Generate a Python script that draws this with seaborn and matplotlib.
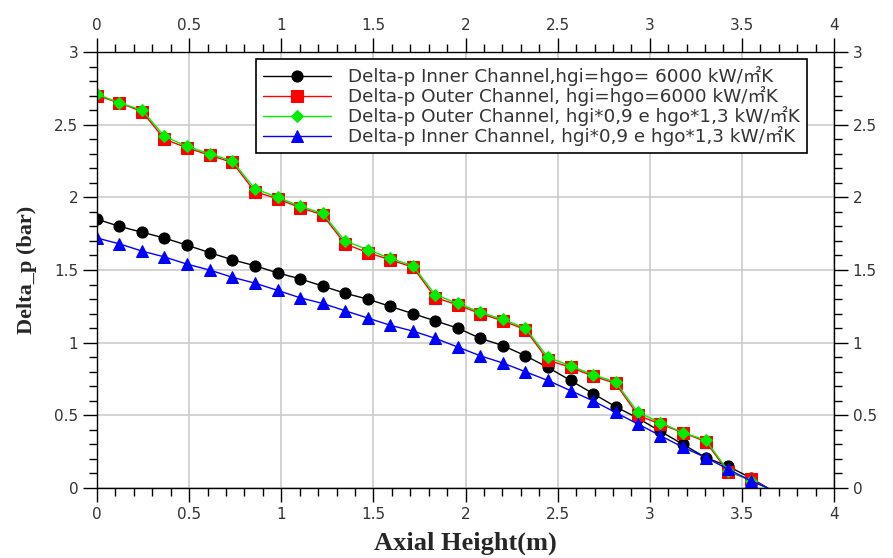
import numpy as np
import pandas as pd
import matplotlib
matplotlib.use("Agg")
import matplotlib.pyplot as plt
from matplotlib.ticker import MultipleLocator
from matplotlib.font_manager import FontProperties
import seaborn as sns

# ---- data ----
x = [0.0, 0.122, 0.245, 0.366, 0.49, 0.611, 0.735, 0.856, 0.98, 1.1, 1.224, 1.346,
     1.469, 1.591, 1.714, 1.836, 1.958, 2.08, 2.203, 2.325, 2.447, 2.57, 2.692,
     2.814, 2.936, 3.058, 3.181, 3.303, 3.425, 3.547, 3.64]

inner_base = [1.85, 1.80, 1.76, 1.72, 1.67, 1.62, 1.57, 1.53, 1.48, 1.44, 1.39, 1.34,
              1.30, 1.25, 1.20, 1.15, 1.10, 1.03, 0.98, 0.91, 0.83, 0.74, 0.65,
              0.56, 0.48, 0.39, 0.30, 0.21, 0.15, 0.07, 0.0]
outer_base = [2.70, 2.65, 2.59, 2.40, 2.34, 2.29, 2.24, 2.04, 1.99, 1.93, 1.88, 1.68,
              1.62, 1.57, 1.52, 1.31, 1.26, 1.20, 1.15, 1.09, 0.88, 0.83, 0.77,
              0.72, 0.50, 0.44, 0.38, 0.32, 0.11, 0.06, 0.0]
outer_mod = [2.71, 2.65, 2.60, 2.42, 2.35, 2.30, 2.25, 2.06, 2.00, 1.94, 1.89, 1.70,
             1.64, 1.58, 1.53, 1.33, 1.27, 1.21, 1.16, 1.10, 0.90, 0.84, 0.78,
             0.73, 0.52, 0.45, 0.38, 0.33, 0.12, 0.05, 0.0]
inner_mod = [1.72, 1.68, 1.63, 1.59, 1.54, 1.50, 1.45, 1.41, 1.36, 1.31, 1.27, 1.22,
             1.17, 1.12, 1.08, 1.03, 0.97, 0.91, 0.86, 0.80, 0.74, 0.67, 0.60,
             0.52, 0.44, 0.36, 0.28, 0.21, 0.13, 0.05, 0.0]

labels = [
    "Delta-p Inner Channel,hgi=hgo= 6000 kW/\u33a1K",
    "Delta-p Outer Channel, hgi=hgo=6000 kW/\u33a1K",
    "Delta-p Outer Channel, hgi*0,9 e hgo*1,3 kW/\u33a1K",
    "Delta-p Inner Channel, hgi*0,9 e hgo*1,3 kW/\u33a1K",
]
series = [inner_base, outer_base, outer_mod, inner_mod]
colors = ["#000000", "#ff0000", "#00ee00", "#0000ff"]
markers = ["o", "s", "D", "^"]
msizes = [8, 8, 6.5, 8]

sns.set_theme(style="white")
plt.rcParams['font.family'] = ['DejaVu Sans', 'Noto Sans CJK SC']

fig = plt.figure(figsize=(8.93, 5.58), dpi=100)
ax = fig.add_axes([0.1086, 0.1254, 0.8254, 0.7814])

for y, lab, c, m, ms in zip(series, labels, colors, markers, msizes):
    df = pd.DataFrame({"x": x, "y": y})
    sns.lineplot(data=df, x="x", y="y", ax=ax, color=c, marker=m, markersize=ms,
                 markeredgecolor=c, markerfacecolor=c, linewidth=1.0, label=lab,
                 markevery=list(range(len(x) - 1)), estimator=None, sort=False)

ax.set_xlim(0, 4)
ax.set_ylim(0, 3)
ax.xaxis.set_major_locator(MultipleLocator(0.5))
ax.xaxis.set_minor_locator(MultipleLocator(0.1))
ax.yaxis.set_major_locator(MultipleLocator(0.5))
ax.yaxis.set_minor_locator(MultipleLocator(0.1))
ax.xaxis.set_major_formatter(matplotlib.ticker.FuncFormatter(lambda v, p: f"{v:g}"))
ax.yaxis.set_major_formatter(matplotlib.ticker.FuncFormatter(lambda v, p: f"{v:g}"))

ax.grid(True, which="major", color="#cccccc", linewidth=1.2)
ax.tick_params(which="both", direction="out", top=True, right=True, bottom=True, left=True,
               labeltop=True, labelright=True, colors="black", labelcolor="#333333",
               labelsize=11)
ax.tick_params(which="major", length=10, width=1)
ax.tick_params(which="minor", length=6, width=1)
for s in ax.spines.values():
    s.set_color("black")
    s.set_linewidth(1.0)

ax.set_xlabel("Axial Height(m)", fontsize=19, fontweight="bold",
              family="Liberation Serif", labelpad=7)
ax.set_ylabel("Delta_p (bar)", fontsize=16, fontweight="bold",
              family="Liberation Serif", labelpad=12)

legfont = FontProperties(family=['DejaVu Sans', 'Noto Sans CJK SC'], size=13.2)
leg = ax.legend(loc="upper right", bbox_to_anchor=(0.971, 0.997), prop=legfont,
                frameon=True, fancybox=False, edgecolor="black", framealpha=1,
                borderpad=0.4, handlelength=3.7, handletextpad=0.95, labelspacing=0.0,
                borderaxespad=0.3, markerscale=1.0)
leg.get_frame().set_linewidth(1.2)
for t in leg.get_texts():
    t.set_color("#333333")

fig.savefig("out.png", dpi=100)
